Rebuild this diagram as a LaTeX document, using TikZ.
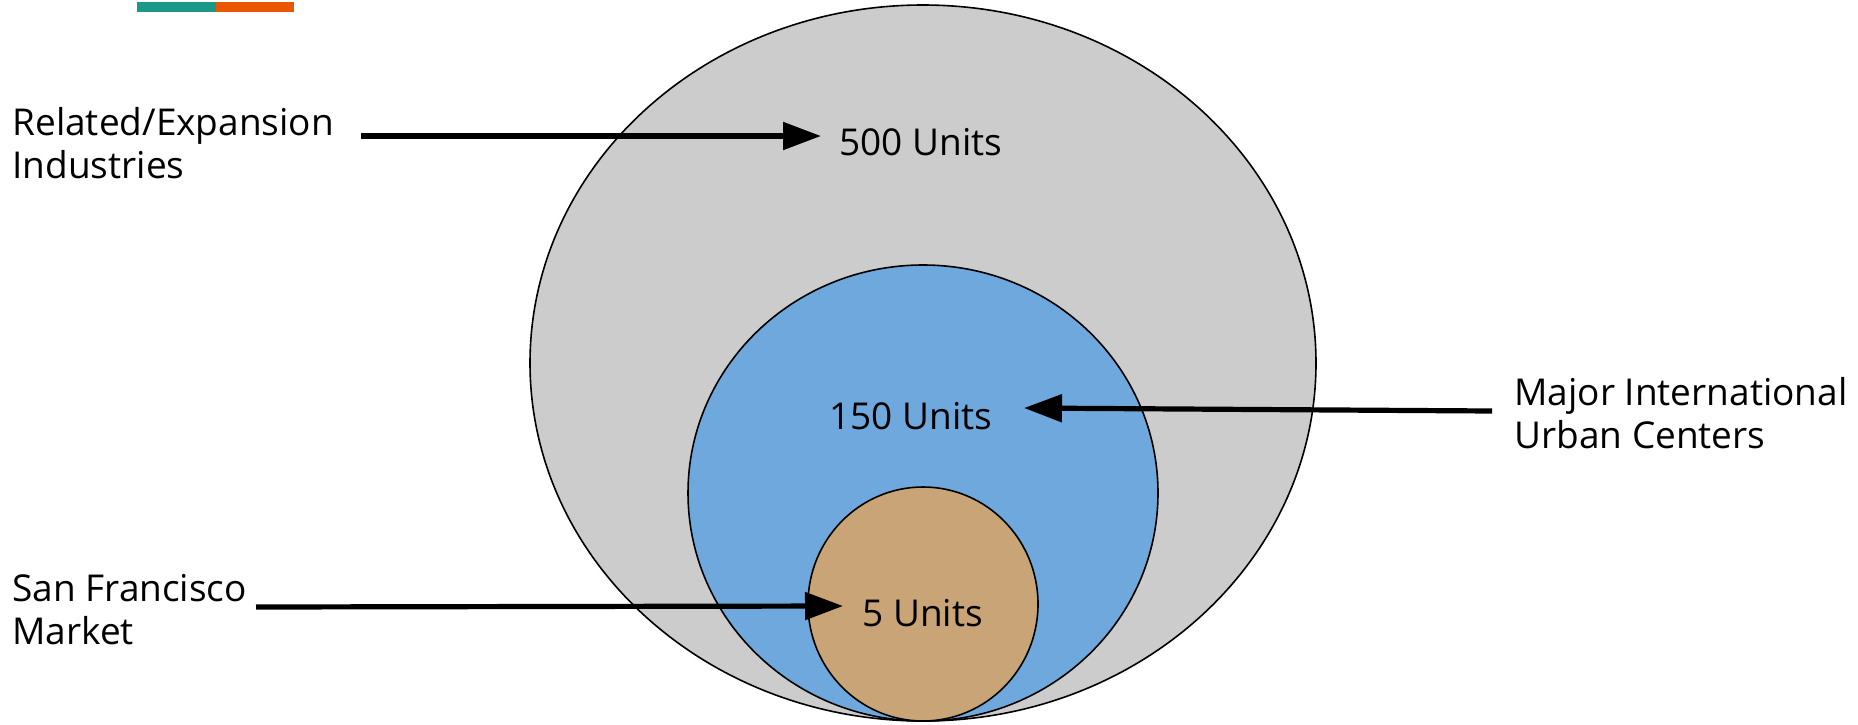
\documentclass[tikz,border=0pt]{standalone}
\usepackage{fontspec}
\setmainfont{Open Sans}
\usetikzlibrary{arrows.meta}
\definecolor{outergray}{HTML}{CCCCCC}
\definecolor{midblue}{HTML}{6FA8DC}
\definecolor{innertan}{HTML}{C9A476}
\definecolor{barteal}{HTML}{1A9988}
\definecolor{barorange}{HTML}{EB5600}
\tikzset{
  ring/.style={draw=black,line width=0.8pt},
  arr/.style={line width=2.6pt,-{Triangle[length=19pt,width=13.5pt]}},
  lbl/.style={inner sep=0pt,font=\fontsize{18.5}{21.3}\selectfont,align=left},
}
\begin{document}
\begin{tikzpicture}[x=0.5pt,y=-0.5pt]
\useasboundingbox (0,0) rectangle (1858,724);
% top bar
\fill[barteal] (137,2) rectangle (216,12);
\fill[barorange] (216,2) rectangle (294,12);
% circles
\path[ring,fill=outergray] (923,363) ellipse [x radius=393, y radius=358];
\path[ring,fill=midblue] (923,493) ellipse [x radius=235, y radius=228];
\path[ring,fill=innertan] (923,604) ellipse [x radius=115, y radius=117];
% labels
\node[lbl,anchor=base west] (u500) at (839,155) {500 Units};
\node[lbl,anchor=base west] (u150) at (829,429) {150 Units};
\node[lbl,anchor=base west] (u5) at (862,626) {5 Units};
\node[lbl,anchor=north west] (rel) at (12,107) {Related/Expansion\\Industries};
\node[lbl,anchor=north west] (maj) at (1514,377) {Major International\\Urban Centers};
\node[lbl,anchor=north west] (sf) at (12,574) {San Francisco\\Market};
% arrows
\coordinate (a1s) at (361,136);
\coordinate (a1e) at (821,136);
\coordinate (a2s) at (1492,411);
\coordinate (a2e) at (1024,408);
\coordinate (a3s) at (256,607);
\coordinate (a3e) at (843,606);
\draw[arr] (a1s) -- (a1e);
\draw[arr] (a2s) -- (a2e);
\draw[arr] (a3s) -- (a3e);
\end{tikzpicture}
\end{document}
